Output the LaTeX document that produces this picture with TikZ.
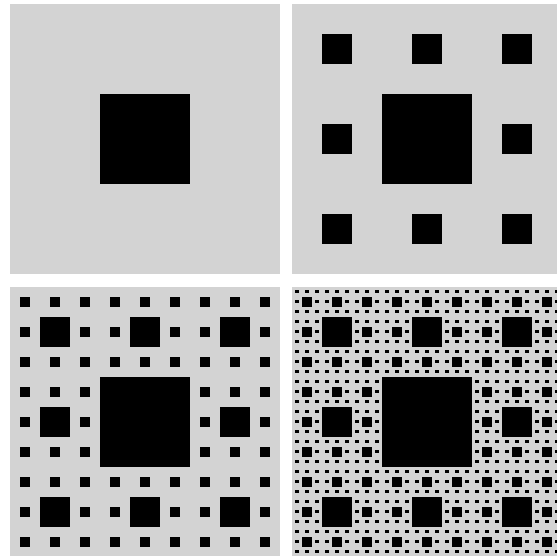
\documentclass[tikz,border=0pt]{standalone}
\definecolor{pan}{HTML}{D3D3D3}
\tikzset{panel/.style={fill=pan}, sq/.style={fill=black}}
\newcommand\carpetpanel[3]{%
  \fill[panel] (#1,#2) rectangle ++(270,270);
  \foreach \k in {1,...,#3}{
    \pgfmathtruncatemacro\nn{3^(\k-1)}
    \pgfmathsetmacro\ss{270/(3^\k)}
    \foreach \a in {1,...,\nn}{
      \foreach \b in {1,...,\nn}{
        \fill[sq] ({#1+(3*(\a-1)+1)*\ss},{#2+(3*(\b-1)+1)*\ss}) rectangle ++(\ss,\ss);
      }
    }
  }
}
\begin{document}
\begin{tikzpicture}[x=1pt,y=-1pt]
\useasboundingbox (0,0) rectangle (557,556);
\clip (0,0) rectangle (557,556);
\fill[white] (0,0) rectangle (557,556);
\carpetpanel{10}{4}{1}
\carpetpanel{292}{4}{2}
\carpetpanel{10}{286.5}{3}
\carpetpanel{292}{286.5}{4}
\end{tikzpicture}
\end{document}
